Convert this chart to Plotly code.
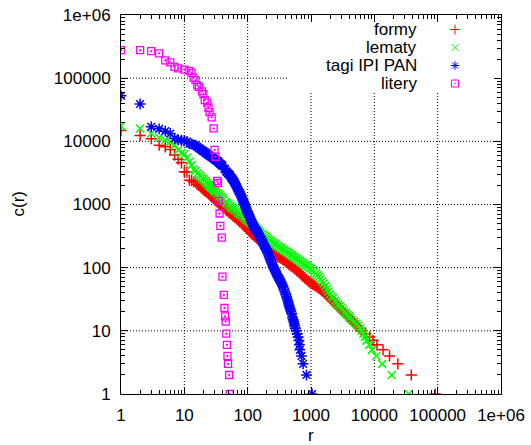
import math
import plotly.graph_objects as go

# Rank (r) versus count c(r), log-log
formy_r = [1, 2, 3, 4, 5, 6, 7, 8, 9, 10,
           11, 12, 13, 14, 15, 16, 17, 18, 19, 20,
           21, 22, 23, 24, 25, 26, 27, 28, 29, 30,
           31, 33, 35, 36, 38, 40, 42, 45, 47, 50,
           53, 56, 59, 63, 67, 71, 75, 80, 85, 90,
           95, 100, 106, 112, 119, 126, 133, 141, 150, 158,
           168, 178, 189, 200, 212, 224, 237, 251, 266, 282,
           299, 316, 335, 355, 376, 398, 422, 447, 473, 501,
           531, 562, 596, 631, 668, 708, 750, 794, 841, 891,
           944, 1000, 1059, 1122, 1189, 1259, 1334, 1413, 1496, 1585,
           1679, 1778, 1884, 1995, 2050, 2100, 2170, 2250, 2330, 2420,
           2500, 2600, 2700, 2800, 2920, 3060, 3200, 3380, 3580, 3800,
           4050, 4300, 4600, 4950, 5300, 5750, 6240, 7290, 8430, 9500,
           11000, 13700, 17400, 23500, 38300, 91400]
formy_c = [14900, 12400, 11000, 8700, 8200, 7450, 6050, 5200, 4570, 3300,
           3250, 2430, 2400, 2300, 2250, 2100, 2000, 1900, 1800, 1700,
           1650, 1600, 1540, 1480, 1430, 1390, 1340, 1300, 1250, 1200,
           1150, 1100, 1050, 1000, 960, 920, 880, 840, 800, 760,
           725, 690, 655, 620, 590, 560, 535, 510, 480, 450,
           425, 400, 377, 355, 337, 320, 303, 287, 274, 262,
           247, 233, 221, 210, 200, 190, 180, 170, 162, 155,
           150, 145, 140, 135, 130, 125, 119, 113, 108, 104,
           99, 95, 90, 86, 81, 77, 73, 69, 65, 62,
           59, 57, 55, 53, 51, 49, 47, 45, 43, 41,
           39, 37, 35, 33, 32, 31, 30, 29, 28, 27,
           26, 25, 24, 23, 22, 21, 20, 19, 18, 17,
           16, 15, 14, 13, 12, 11, 10, 9, 8, 7,
           6, 5, 4, 3, 2, 1]

lematy_r = [1, 2, 3, 4, 5, 6, 7, 8, 9, 10,
            11, 12, 13, 14, 15, 16, 17, 18, 19, 20,
            21, 22, 23, 24, 25, 26, 27, 28, 29, 30,
            31, 33, 35, 36, 38, 40, 42, 45, 47, 50,
            53, 56, 59, 63, 67, 71, 75, 80, 85, 90,
            95, 100, 106, 112, 119, 126, 133, 141, 150, 158,
            168, 178, 189, 200, 212, 224, 237, 251, 266, 282,
            299, 316, 335, 355, 376, 398, 422, 447, 473, 501,
            531, 562, 596, 631, 668, 708, 750, 794, 841, 891,
            944, 1000, 1059, 1122, 1189, 1259, 1334, 1413, 1496, 1585,
            1679, 1778, 1884, 1995, 2113, 2239, 2371, 2512, 2661, 2818,
            2985, 3162, 3350, 3548, 3760, 3981, 4090, 4400, 4800, 5200,
            5600, 5950, 6300, 6700, 7100, 7500, 8300, 9200, 10700, 13300,
            18800, 35000]
lematy_c = [17400, 16000, 13300, 11500, 10400, 9800, 8700, 7300, 6500, 6300,
            5500, 4740, 4200, 3600, 3400, 3100, 2900, 2750, 2600, 2500,
            2370, 2250, 2150, 2050, 1970, 1900, 1850, 1800, 1720, 1650,
            1600, 1500, 1420, 1380, 1310, 1250, 1190, 1100, 1050, 1000,
            950, 900, 860, 820, 780, 740, 710, 680, 645, 610,
            585, 560, 535, 510, 485, 460, 435, 410, 385, 360,
            342, 325, 310, 295, 282, 270, 259, 248, 238, 228,
            219, 210, 203, 196, 189, 182, 175, 168, 161, 155,
            149, 143, 137, 132, 127, 122, 117, 112, 108, 104,
            100, 96, 91, 86, 81, 76, 71, 66, 61, 56,
            51, 46, 42, 38, 35, 33, 30, 28, 26, 24.5,
            23, 21.5, 20, 19, 18, 17, 16, 15, 14, 13,
            12, 11, 10, 9, 8, 7, 6, 5, 4, 3,
            2, 1]

tagi_r = [1, 2, 3, 4, 5, 6, 7, 8, 9, 10,
          11, 12, 13, 14, 15, 16, 17, 18, 19, 20,
          21, 22, 23, 24, 25, 26, 27, 28, 29, 30,
          31, 32, 33, 34, 35, 36, 37, 38, 39, 40,
          43, 44, 46, 47, 49, 50, 52, 53, 55, 56,
          58, 59, 61, 62, 63, 65, 67, 69, 71, 73,
          76, 78, 80, 82, 84, 86, 88, 90, 92, 94,
          96, 98, 100, 102, 105, 107, 110, 113, 116, 119,
          122, 126, 130, 134, 139, 143, 147, 151, 156, 161,
          166, 171, 176, 181, 187, 193, 199, 206, 213, 218,
          224, 231, 239, 246, 253, 261, 269, 276, 284, 293,
          303, 313, 323, 333, 343, 353, 364, 375, 387, 399,
          411, 421, 431, 439, 447, 458, 469, 481, 493, 512,
          524, 533, 542, 552, 565, 585, 605, 627, 645, 656,
          667, 708, 751, 849, 1040]
tagi_c = [52500, 39000, 17000, 15800, 14500, 13300, 11100, 10600, 10400, 10300,
          9900, 9200, 9100, 8800, 8600, 8200, 7800, 7500, 7200, 7000,
          6750, 6500, 6300, 6100, 5950, 5800, 5650, 5500, 5350, 5200,
          5100, 5000, 4900, 4800, 4650, 4500, 4400, 4300, 4200, 4100,
          3700, 3580, 3350, 3250, 3100, 3050, 2950, 2870, 2700, 2620,
          2500, 2430, 2300, 2230, 2160, 2030, 1905, 1795, 1690, 1590,
          1500, 1410, 1324, 1250, 1175, 1110, 1052, 988, 927, 870,
          815, 779, 744, 711, 679, 640, 602, 566, 532, 501,
          472, 447, 424, 403, 384, 366, 349, 328, 308, 290,
          273, 257, 242, 228, 214, 202, 190, 176, 164, 152,
          140, 130, 120, 111, 103, 97, 91.6, 86, 80.7, 76,
          71, 67, 63.7, 60, 56, 52.5, 49.3, 45, 41.1, 37.8,
          34.7, 32, 29.6, 27.5, 25.6, 23.8, 22.1, 20.4, 18.9, 16,
          15, 14, 13, 12, 11, 10, 9, 8, 7, 6,
          5, 4, 3, 2, 1]

litery_r = [1, 2, 3, 4, 5, 6, 7, 8, 10, 12, 13, 14, 15, 16, 17, 19, 20, 21, 23, 24, 25,
            27, 29, 30, 31, 33, 34, 35, 36, 37, 39, 40, 42, 43, 44, 45, 46, 47, 48, 49, 51, 52]
litery_c = [277000, 277000, 268000, 247000, 191000, 178000, 151000, 143000, 137000, 130000, 121000,
            102000, 93000, 77000, 73000, 62000, 56000, 45000, 41000, 34000, 29000,
            24000, 16000, 7300, 5700, 2370, 2200, 1140, 720, 460, 300, 72, 37, 23, 17, 14, 9, 6, 4, 3, 2, 1]

series_names = ["formy", "lematy", "tagi IPI PAN", "litery"]
series_r = [formy_r, lematy_r, tagi_r, litery_r]
series_c = [formy_c, lematy_c, tagi_c, litery_c]
series_colors = ["#ff0000", "#00ff00", "#0000ff", "#ff00ff"]
series_symbols = ["cross-thin-open", "x-thin-open", "asterisk-open", "square-open-dot"]
series_sizes = [8, 8, 9, 7]
series_widths = [1.5, 1.5, 1.5, 1.3]

for r, c in zip(series_r, series_c):
    assert len(r) == len(c)

tick_vals = [1, 10, 100, 1000, 10000, 100000, 1000000]
tick_text = ["1", "10", "100", "1000", "10000", "100000", "1e+06"]

FONT = "Liberation Sans, Arial, Helvetica, sans-serif"
W, H = 531, 445
ML, MR, MT, MB = 121, 30, 15, 51
PW, PH = W - ML - MR, H - MT - MB

fig = go.Figure()

# dotted grid, left open where the key sits
key_left = (288 - ML) / PW
key_bottom = (MT + PH - 92) / PH
grid_line = dict(color="black", width=1, dash="1px,2px")
decades = math.log10(tick_vals[-1])
for v in tick_vals[1:-1]:
    f = math.log10(v) / decades
    fig.add_shape(type="line", xref="x domain", yref="y domain",
                  x0=0, x1=key_left if f > key_bottom else 1, y0=f, y1=f,
                  line=grid_line, layer="below")
    fig.add_shape(type="line", xref="x domain", yref="y domain",
                  x0=f, x1=f, y0=0, y1=key_bottom if f > key_left else 1,
                  line=grid_line, layer="below")

for name, r, c, col, sym, sz, lw in zip(series_names, series_r, series_c, series_colors,
                                       series_symbols, series_sizes, series_widths):
    fig.add_trace(go.Scatter(
        x=r, y=c, mode="markers", name=name, showlegend=False,
        marker=dict(symbol=sym, size=sz, color=col, line=dict(color=col, width=lw)),
    ))

# key: label right-aligned, sample symbol to its right
key_x_text = (419 - ML) / PW
key_x_sym = (455 - ML) / PW
key_rows_px = [29.5, 47.5, 65.5, 83.5]
for i, (name, col, sym) in enumerate(zip(series_names, series_colors, series_symbols)):
    yf = (MT + PH - key_rows_px[i]) / PH
    fig.add_trace(go.Scatter(
        x=[key_x_sym], y=[yf], mode="markers", showlegend=False, hoverinfo="skip",
        xaxis="x2", yaxis="y2",
        marker=dict(symbol=sym, size=7, color=col, line=dict(color=col, width=1)),
    ))
    fig.add_annotation(x=key_x_text, y=yf, xref="paper", yref="paper", text=name,
                       showarrow=False, xanchor="right", yanchor="middle",
                       font=dict(family=FONT, size=17, color="black"))

# axis titles
fig.add_annotation(x=(18 - ML) / PW, y=0.5, xref="paper", yref="paper", text="c(r)",
                   showarrow=False, textangle=-90, xanchor="center", yanchor="middle",
                   font=dict(family=FONT, size=17, color="black"))
fig.add_annotation(x=0.5, y=-(435 - MT - PH) / PH, xref="paper", yref="paper", text="r",
                   showarrow=False, xanchor="center", yanchor="middle",
                   font=dict(family=FONT, size=17, color="black"))

axis_common = dict(
    type="log", range=[0, 6], tickmode="array", tickvals=tick_vals, ticktext=tick_text,
    showline=True, linecolor="black", linewidth=1, mirror="allticks",
    ticks="inside", ticklen=7, tickcolor="black", tickwidth=1,
    showgrid=False, zeroline=False, ticklabelstandoff=6,
    tickfont=dict(family=FONT, size=17, color="black"),
    minor=dict(ticks="inside", ticklen=4, tickcolor="black", tickwidth=1,
               dtick="D1", showgrid=False),
)

fig.update_layout(
    width=W, height=H,
    margin=dict(l=ML, r=MR, t=MT, b=MB, autoexpand=False),
    paper_bgcolor="white", plot_bgcolor="white",
    xaxis=dict(**axis_common),
    yaxis=dict(**axis_common),
    xaxis2=dict(overlaying="x", range=[0, 1], visible=False, fixedrange=True),
    yaxis2=dict(overlaying="y", range=[0, 1], visible=False, fixedrange=True),
    font=dict(family=FONT, size=17, color="black"),
)

fig.write_html("out.html")
